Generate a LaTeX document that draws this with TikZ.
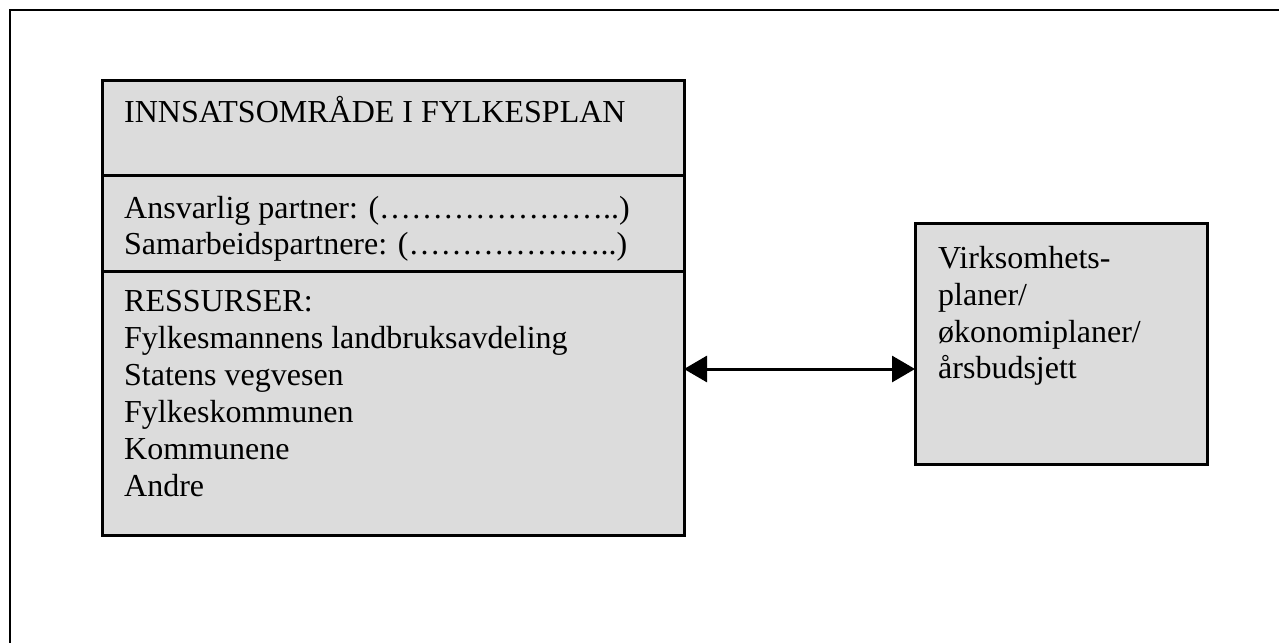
\documentclass[tikz,border=0pt]{standalone}
\usepackage{fontspec}
\setmainfont{Liberation Serif}
\usetikzlibrary{arrows.meta}
\definecolor{boxgray}{RGB}{220,220,220}
\tikzset{
  panel/.style={draw=black, fill=boxgray, line width=3pt, inner sep=0pt, outer sep=0pt, anchor=north west},
  txt/.style={anchor=base west, inner sep=0pt, font=\fontsize{32}{37}\selectfont},
  link/.style={line width=3pt, {Triangle[length=23pt,width=26pt]}-{Triangle[length=23pt,width=26pt]}}
}
\begin{document}
\begin{tikzpicture}[x=1pt,y=-1pt]
\useasboundingbox (0,0) rectangle (1279,643);
% page frame (only top and left edges fall inside the page)
\draw[line width=2pt] (1279,10) -- (10,10) -- (10,643);

% left stacked panel
\node[panel, minimum width=582pt, minimum height=95.5pt] (head) at (102,80) {};
\node[panel, minimum width=582pt, minimum height=95.5pt] (partners) at (102,175.5) {};
\node[panel, minimum width=582pt, minimum height=264pt] (res) at (102,271) {};

% right panel
\node[panel, minimum width=292pt, minimum height=240.5pt] (plans) at (915,223.5) {};

% texts of the left panel
\node[txt] (t1) at (124,122) {INNSATSOMRÅDE I FYLKESPLAN};
\node[txt] (t2) at (124,218) {Ansvarlig partner: (…………………..)};
\node[txt] (t3) at (124,254) {Samarbeidspartnere: (………………..)};
\node[txt] (r1) at (124,311) {RESSURSER:};
\node[txt] (r2) at (124,348) {Fylkesmannens landbruksavdeling};
\node[txt] (r3) at (124,385) {Statens vegvesen};
\node[txt] (r4) at (124,422) {Fylkeskommunen};
\node[txt] (r5) at (124,459) {Kommunene};
\node[txt] (r6) at (124,496) {Andre};

% texts of the right panel
\node[txt] (p1) at (938,268) {Virksomhets-};
\node[txt] (p2) at (938,305) {planer/};
\node[txt] (p3) at (938,342) {økonomiplaner/};
\node[txt] (p4) at (938,378) {årsbudsjett};

% two-way link
\coordinate (ay) at (0,369);
\draw[link] (res.east |- ay) -- (plans.west |- ay);
\end{tikzpicture}
\end{document}
